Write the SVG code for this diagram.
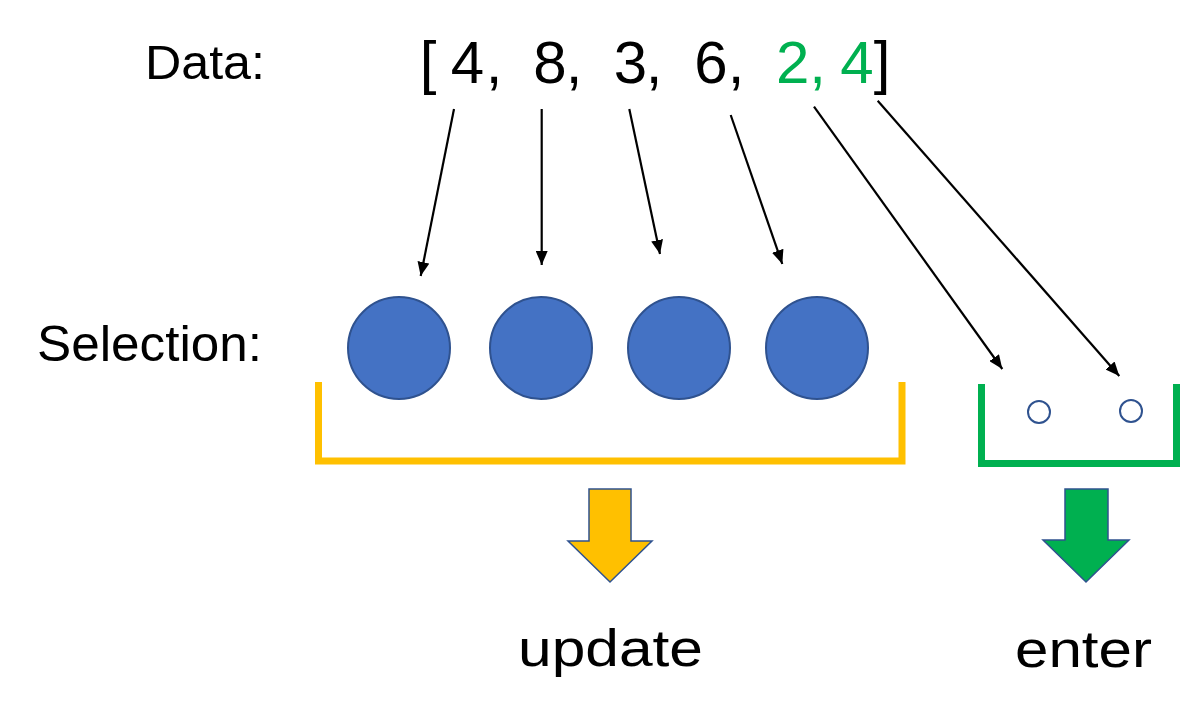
<svg xmlns="http://www.w3.org/2000/svg" width="1199" height="728" viewBox="0 0 1199 728">
<style>
.t{font-family:"Liberation Sans",Arial,sans-serif;fill:#000}
.g{fill:#00B050}
.c{fill:#4472C4;stroke:#2F528F;stroke-width:2}
.s{fill:#fff;stroke:#2F528F;stroke-width:2}
.ln{stroke:#000;stroke-width:2.2;fill:none;marker-end:url(#ah)}
</style>
<defs>
<marker id="ah" markerUnits="userSpaceOnUse" viewBox="0 0 14 12" refX="14" refY="6" markerWidth="14" markerHeight="12" orient="auto">
<path d="M0,0 L14,6 L0,12 Z" fill="#000"/>
</marker>
</defs>
<rect width="1199" height="728" fill="#fff"/>
<g id="label-data"><text class="t" x="145" y="79" font-size="49" textLength="120" lengthAdjust="spacingAndGlyphs">Data:</text></g>
<g id="label-selection"><text class="t" x="37" y="361" font-size="50" textLength="225" lengthAdjust="spacingAndGlyphs">Selection:</text></g>
<g id="data-array" font-size="60" text-anchor="middle">
<text class="t" x="428" y="83">[</text>
<text class="t" x="467.5" y="83">4</text>
<text class="t" x="494" y="83">,</text>
<text class="t" x="550" y="83">8</text>
<text class="t" x="574" y="83">,</text>
<text class="t" x="630.5" y="83">3</text>
<text class="t" x="654" y="83">,</text>
<text class="t" x="711" y="83">6</text>
<text class="t" x="736" y="83">,</text>
<text class="t g" x="776" y="83" text-anchor="start">2,</text>
<text class="t g" x="857" y="83">4</text>
<text class="t" x="882" y="83">]</text>
</g>
<g id="connectors">
<line class="ln" x1="454" y1="109" x2="420.7" y2="276"/>
<line class="ln" x1="541.7" y1="109" x2="541.7" y2="265"/>
<line class="ln" x1="629.3" y1="109" x2="660" y2="254"/>
<line class="ln" x1="730.7" y1="115" x2="782.3" y2="264"/>
<line class="ln" x1="814" y1="106.7" x2="1002.3" y2="369"/>
<line class="ln" x1="877.7" y1="100.7" x2="1119.3" y2="376"/>
</g>
<g id="circle-1"><circle class="c" cx="399" cy="348" r="51"/></g>
<g id="circle-2"><circle class="c" cx="541" cy="348" r="51"/></g>
<g id="circle-3"><circle class="c" cx="679" cy="348" r="51"/></g>
<g id="circle-4"><circle class="c" cx="817" cy="348" r="51"/></g>
<g id="enter-circle-1"><circle class="s" cx="1039" cy="412" r="11"/></g>
<g id="enter-circle-2"><circle class="s" cx="1131" cy="411" r="11"/></g>
<g id="update-bracket"><polyline points="318.5,382 318.5,461 902,461 902,382" fill="none" stroke="#FFC000" stroke-width="7"/></g>
<g id="enter-bracket"><polyline points="981.5,384 981.5,463.5 1176.5,463.5 1176.5,384" fill="none" stroke="#00B050" stroke-width="7"/></g>
<g id="update-arrow"><path d="M589,489 H631 V541 H652 L610,582 L568,541 H589 Z" fill="#FFC000" stroke="#2F528F" stroke-width="1.5"/></g>
<g id="enter-arrow"><path d="M1065,489 H1108 V540 H1129 L1086,582 L1043,540 H1065 Z" fill="#00B050" stroke="#2F528F" stroke-width="1.5"/></g>
<g id="label-update"><text class="t" x="518" y="666" font-size="52" textLength="185" lengthAdjust="spacingAndGlyphs">update</text></g>
<g id="label-enter"><text class="t" x="1015" y="667" font-size="52" textLength="137" lengthAdjust="spacingAndGlyphs">enter</text></g>
</svg>
